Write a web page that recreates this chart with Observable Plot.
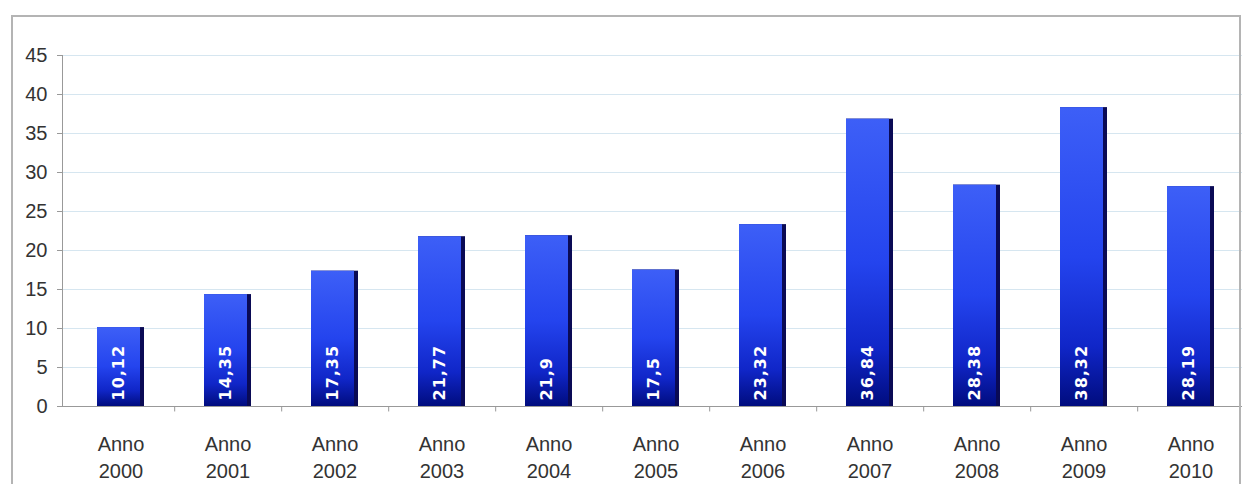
<!DOCTYPE html>
<html>
<head>
<meta charset="utf-8">
<script src="https://cdn.jsdelivr.net/npm/d3@7"></script>
<script src="https://cdn.jsdelivr.net/npm/@observablehq/plot@0.6"></script>
<style>
  html, body { margin: 0; padding: 0; background: #fff; }
  #wrap { position: relative; width: 1242px; height: 484px; overflow: hidden; }
  #frame { position: absolute; left: 11px; top: 15px; width: 1226px; height: 472px; border: 2px solid #b4b4b4; pointer-events: none; }
  .barlab text { letter-spacing: 1px; }
</style>
</head>
<body>
<div id="wrap"><div id="frame"></div><div id="chart"></div></div>
<script>
const years = ["2000","2001","2002","2003","2004","2005","2006","2007","2008","2009","2010"];
const values = [10.12, 14.35, 17.35, 21.77, 21.9, 17.5, 23.32, 36.84, 28.38, 38.32, 28.19];
const valueLabels = ["10,12","14,35","17,35","21,77","21,9","17,5","23,32","36,84","28,38","38,32","28,19"];
const yTicks = [0,5,10,15,20,25,30,35,40,45];

const data = years.map((y, i) => ({year: y, value: values[i], label: valueLabels[i]}));

const xRange = [65, 1246];
const step = (xRange[1] - xRange[0]) / years.length;

const plot = Plot.plot({
  width: 1242,
  height: 484,
  marginTop: 55,
  marginBottom: 78,
  marginLeft: 62,
  marginRight: 0,
  style: {fontFamily: "'Liberation Sans', Arial, sans-serif", background: "transparent", overflow: "visible"},
  x: {domain: years, range: xRange, paddingInner: 0.56, paddingOuter: 0.28, align: 0.5},
  y: {domain: [0, 45]},
  marks: [
    Plot.gridY(yTicks, {stroke: "#d6e6f0", strokeOpacity: 1, strokeWidth: 1.2}),
    Plot.frame({anchor: "left", stroke: "#999"}),
    Plot.ruleY([0], {stroke: "#999", strokeWidth: 1.2}),
    Plot.ruleX(years, {x: d => d, dx: step / 2, y1: 0, y2: -0.7, stroke: "#999"}),
    Plot.axisY({ticks: yTicks, tickSize: 5, tickPadding: 10, fontSize: 20, fill: "#333", stroke: "#999", label: null}),
    Plot.axisX({tickSize: 0, tickPadding: 25, fontSize: 20, fill: "#333", lineHeight: 1.35, label: null,
      tickFormat: d => "Anno\n" + d}),
    Plot.barY(data, {x: "year", y: "value", fill: "#0a0a55"}),
    Plot.barY(data, {x: "year", y: "value", insetRight: 4, fill: "url(#barGrad)"}),
    Plot.text(data, {x: "year", y: 0, text: "label", rotate: -90, textAnchor: "start", dx: -2, dy: -6,
      fill: "#fff", fontWeight: "bold", fontSize: 16, fontFamily: "'DejaVu Sans', sans-serif", className: "barlab"})
  ]
});

const ns = "http://www.w3.org/2000/svg";
const defs = document.createElementNS(ns, "defs");
defs.innerHTML = `<linearGradient id="barGrad" x1="0" y1="0" x2="0" y2="1">
  <stop offset="0" stop-color="#3d5ff7"/>
  <stop offset="0.5" stop-color="#2444ee"/>
  <stop offset="0.8" stop-color="#1026c8"/>
  <stop offset="1" stop-color="#000c7e"/>
</linearGradient>`;
plot.insertBefore(defs, plot.firstChild);
document.getElementById("chart").appendChild(plot);
</script>
</body>
</html>
